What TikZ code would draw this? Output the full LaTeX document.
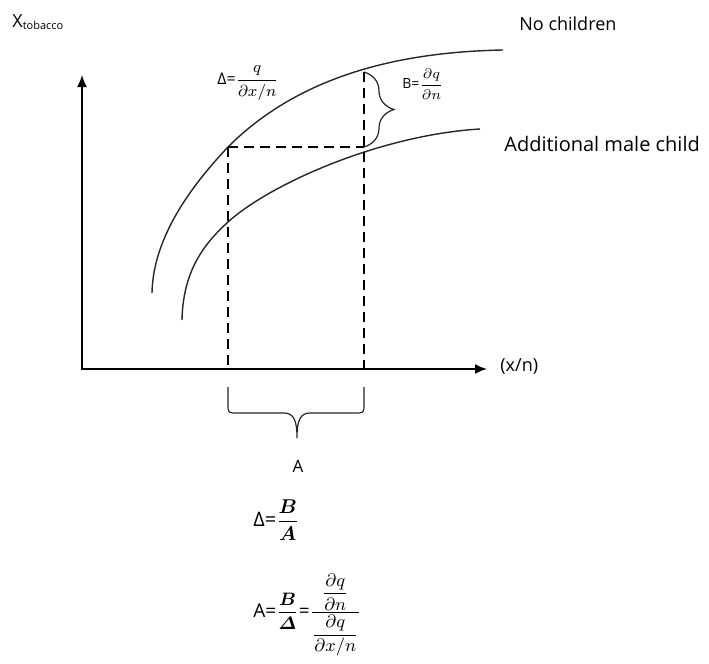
\documentclass[tikz,border=0pt]{standalone}
\usepackage{fontspec}
\setmainfont{Open Sans}
\usepackage{amsmath,bm}
\usetikzlibrary{arrows.meta,decorations.pathreplacing}
\tikzset{
  curve/.style={line width=0.7pt,black!85},
  axis/.style={line width=0.9pt,{Latex[length=6pt,width=5pt]}-{Latex[length=6pt,width=5pt]}},
  guide/.style={line width=0.7pt,dash pattern=on 5pt off 3pt},
  bracket/.style={line width=0.6pt,black!85},
  lbl/.style={inner sep=0pt,font=\fontsize{8}{9}\selectfont}
}
\begin{document}
\begin{tikzpicture}[x=0.5pt,y=-0.5pt]
\useasboundingbox (0,0) rectangle (709,664);
\coordinate (O) at (82,369);
\coordinate (ytip) at (82,75);
\coordinate (xtip) at (487,369);
\coordinate (P1) at (228,147);
\coordinate (P2) at (364,72);
\coordinate (P3) at (364,147);

\draw[axis] (ytip) |- (xtip);

\draw[curve] (152,293) .. controls (153,235) and (195,182) .. (P1)
  .. controls (300,75) and (400,52) .. (503,50);
\draw[curve] (182,320) .. controls (183,270) and (205,243) .. (228,222)
  .. controls (270,184) and (380,135) .. (480,129);

\draw[guide] (P1) -- (P3);
\draw[guide] (P1) -- (P1 |- O);
\draw[guide] (P2) -- (P2 |- O);

\draw[bracket,decorate,decoration={brace,amplitude=15pt}] (P2) -- (P3);
\draw[bracket] (228,387) -- (228,404) .. controls (228,413) .. (237,413) -- (284,413)
  .. controls (294,413) and (297,421) .. (297,438)
  .. controls (297,421) and (300,413) .. (310,413) -- (355,413)
  .. controls (364,413) .. (364,404) -- (364,387);

\node[lbl,anchor=west] (ylab) at (12,22) {\fontsize{9}{10}\selectfont X\textsubscript{\fontsize{5.5}{6}\selectfont tobacco}};
\node[lbl,anchor=west,font=\fontsize{9}{10}\selectfont] (xlab) at (500,366) {(x/n)};
\node[lbl,anchor=west,font=\fontsize{9}{10}\selectfont] (top) at (519,24) {No children};
\node[lbl,anchor=west,font=\fontsize{10}{12}\selectfont] (low) at (504,144) {Additional male child};
\node[lbl,anchor=west,font=\fontsize{8}{9}\selectfont] (delta) at (217,83) {Δ=$\dfrac{q}{\partial x/n}$};
\node[lbl,anchor=west,font=\fontsize{7}{8}\selectfont] (B) at (402,84) {B=$\dfrac{\partial q}{\partial n}$};
\node[lbl,font=\fontsize{8.5}{10}\selectfont] (A) at (298,466) {A};
\node[lbl,anchor=west,font=\fontsize{10}{12}\selectfont] (eq1) at (253,520) {Δ=$\dfrac{\bm{B}}{\bm{A}}$};
\node[lbl,anchor=west,font=\fontsize{9.5}{11}\selectfont] (eq2) at (253,615)
  {A=$\dfrac{\bm{B}}{\bm{\varDelta}}$=$\dfrac{\dfrac{\partial q}{\partial n}}{\dfrac{\partial q}{\partial x/n}}$};
\end{tikzpicture}
\end{document}
